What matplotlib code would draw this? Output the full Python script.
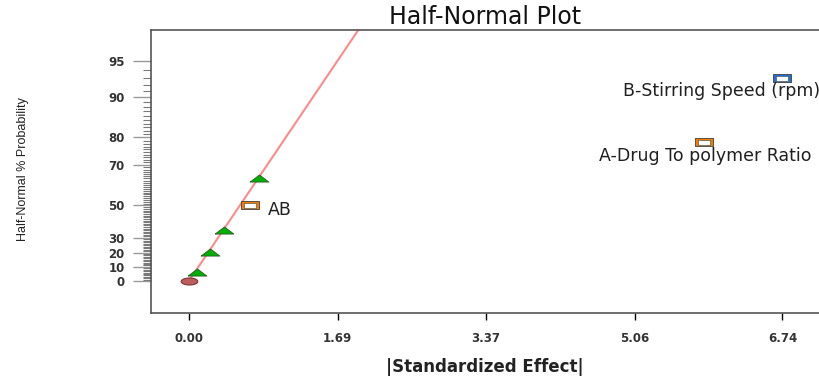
import matplotlib.pyplot as plt
import numpy as np
from statistics import NormalDist

# error effects (green triangles)
err_effect = [0.09, 0.24, 0.40, 0.80]
err_prob = [6.4, 20.5, 35.0, 64.0]

# the zero point (ellipse)
zero_effect = [0.0]
zero_prob = [0.0]

# model terms
term_names = ['AB', 'A-Drug To polymer Ratio', 'B-Stirring Speed (rpm)']
term_effect = [0.69, 5.85, 6.73]
term_prob = [50.0, 78.5, 93.0]
term_colors = ['#f07d00', '#f07d00', '#1f6fd6']

# reference line through the error effects
line_slope = 1.165
line_x = [-0.02, 2.3]

x_ticks = [0.00, 1.69, 3.37, 5.06, 6.74]
y_ticks = [0, 10, 20, 30, 50, 70, 80, 90, 95]
y_minor = list(range(0, 96))


def hn(p):
    # half-normal % probability -> plotting position
    p = np.atleast_1d(np.asarray(p, dtype=float))
    return np.array([NormalDist().inv_cdf(0.5 + v / 200.0) for v in p])


tri = [(-1, -0.38), (1, -0.38), (0, 0.38), (-1, -0.38)]
rect = [(-1, -0.45), (1, -0.45), (1, 0.45), (-1, 0.45), (-1, -0.45)]
t = np.linspace(0, 2 * np.pi, 40)
oval = list(zip(np.cos(t), 0.42 * np.sin(t)))

fig = plt.figure(figsize=(8.19, 3.78), dpi=100)
ax = fig.add_axes([151 / 819, 65 / 378, 672 / 819, 283 / 378])

lx = np.array(line_x)
ax.plot(lx, line_slope * lx, color='#ff8a8a', lw=1.5, zorder=1)

ax.plot(zero_effect, hn(zero_prob), linestyle='none', marker=oval, ms=12,
        mfc='#bd5c5c', mec='#7a3535', mew=0.8, zorder=3)
ax.plot(err_effect, hn(err_prob), linestyle='none', marker=tri, ms=13.5,
        mfc='#00b000', mec='#2e5a2e', mew=0.6, zorder=3)

zt = hn(term_prob)
for i in range(len(term_names)):
    ax.plot(term_effect[i], zt[i], linestyle='none', marker=rect, ms=13.5,
            mfc=term_colors[i], mec='#404040', mew=0.6, zorder=3)
    ax.plot(term_effect[i], zt[i], linestyle='none', marker=rect, ms=8,
            mfc='white', mec='#404040', mew=0.4, zorder=4)

ax.annotate(term_names[0], (term_effect[0], zt[0]), xytext=(13, -3),
            textcoords='offset points', ha='left', va='center', fontsize=12.5,
            color='#202020')
ax.annotate(term_names[1], (term_effect[1], zt[1]), xytext=(1, -10),
            textcoords='offset points', ha='center', va='center', fontsize=12.5,
            color='#202020', annotation_clip=False)
ax.annotate(term_names[2], (term_effect[2], zt[2]), xytext=(28, -9.5),
            textcoords='offset points', ha='right', va='center', fontsize=12.5,
            color='#202020', annotation_clip=False)

ax.set_xlim(-0.43, 7.2)
ax.set_ylim(-0.286, 2.241)

ax.set_xticks(x_ticks)
ax.set_xticklabels(['%.2f' % v for v in x_ticks], fontsize=8.5,
                   fontweight='bold', color='#333333')
ax.tick_params(axis='x', length=5, width=1, color='black', pad=9)

ax.set_yticks(hn(y_ticks))
ax.set_yticklabels([str(v) for v in y_ticks], fontsize=8.5,
                   fontweight='bold', color='#333333')
ax.set_yticks(hn(y_minor), minor=True)
ax.tick_params(axis='y', which='major', length=13, width=1, color='#999999', pad=6)
ax.tick_params(axis='y', which='minor', length=6, width=0.8, color='#7a7a7a')

for s in ['left', 'bottom', 'top']:
    ax.spines[s].set_color('#555555')
    ax.spines[s].set_linewidth(1.2)
ax.spines['right'].set_visible(False)

fig.text(485 / 819, 1 - 17 / 378, 'Half-Normal Plot', ha='center', va='center',
         fontsize=17, color='#111111')
fig.text(485 / 819, 1 - 367 / 378, '|Standardized Effect|', ha='center',
         va='center', fontsize=12, fontweight='bold', color='#222222')
fig.text(23 / 819, 1 - 169 / 378, 'Half-Normal % Probability', rotation=90,
         ha='center', va='center', fontsize=9, family='Liberation Sans',
         color='#222222')

fig.savefig('out.png', dpi=100)
